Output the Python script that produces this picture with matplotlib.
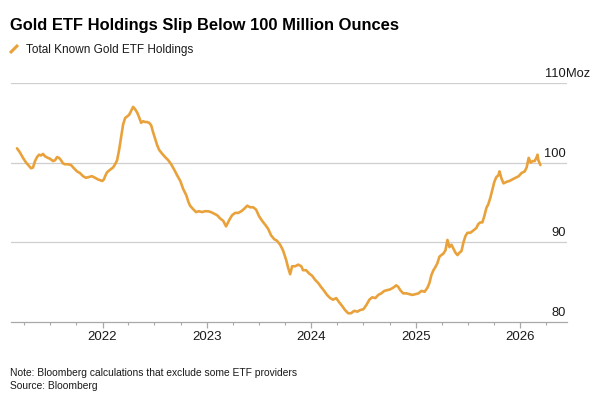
import matplotlib
matplotlib.use("Agg")
import matplotlib.pyplot as plt
import matplotlib.dates as mdates
import pandas as pd

# ---------------- data ----------------
dates = [
    "2021-03-08", "2021-03-18", "2021-03-29", "2021-04-09", "2021-04-19", "2021-04-26",
    "2021-05-03", "2021-05-10", "2021-05-17", "2021-05-24", "2021-05-31", "2021-06-07",
    "2021-06-14", "2021-06-24", "2021-07-01", "2021-07-12", "2021-07-19", "2021-07-26",
    "2021-08-02", "2021-08-09", "2021-08-16", "2021-08-23", "2021-09-02", "2021-09-13",
    "2021-09-23", "2021-10-04", "2021-10-14", "2021-10-25", "2021-11-04", "2021-11-15",
    "2021-11-25", "2021-12-06", "2021-12-16", "2021-12-23", "2021-12-31", "2022-01-06",
    "2022-01-10", "2022-01-17", "2022-01-27", "2022-02-07", "2022-02-14", "2022-02-21",
    "2022-02-28", "2022-03-07", "2022-03-14", "2022-03-21", "2022-03-28", "2022-04-04",
    "2022-04-11", "2022-04-18", "2022-04-25", "2022-05-02", "2022-05-09", "2022-05-16",
    "2022-05-23", "2022-05-30", "2022-06-06", "2022-06-13", "2022-06-20", "2022-06-27",
    "2022-07-04", "2022-07-11", "2022-07-18", "2022-07-29", "2022-08-08", "2022-08-19",
    "2022-08-29", "2022-09-09", "2022-09-19", "2022-09-30", "2022-10-10", "2022-10-21",
    "2022-10-28", "2022-11-03", "2022-11-13", "2022-11-24", "2022-12-04", "2022-12-15",
    "2022-12-25", "2023-01-05", "2023-01-15", "2023-01-26", "2023-02-06", "2023-02-16",
    "2023-02-27", "2023-03-09", "2023-03-20", "2023-03-30", "2023-04-10", "2023-04-21",
    "2023-05-01", "2023-05-11", "2023-05-22", "2023-06-01", "2023-06-12", "2023-06-22",
    "2023-07-02", "2023-07-13", "2023-07-24", "2023-08-03", "2023-08-13", "2023-08-24",
    "2023-09-03", "2023-09-14", "2023-09-24", "2023-10-05", "2023-10-12", "2023-10-19",
    "2023-10-26", "2023-11-06", "2023-11-16", "2023-11-27", "2023-12-03", "2023-12-14",
    "2023-12-24", "2024-01-04", "2024-01-14", "2024-01-25", "2024-02-04", "2024-02-15",
    "2024-02-25", "2024-03-07", "2024-03-17", "2024-03-28", "2024-04-07", "2024-04-18",
    "2024-04-28", "2024-05-09", "2024-05-19", "2024-05-30", "2024-06-10", "2024-06-20",
    "2024-07-01", "2024-07-11", "2024-07-22", "2024-08-01", "2024-08-12", "2024-08-22",
    "2024-09-02", "2024-09-12", "2024-09-22", "2024-10-03", "2024-10-13", "2024-10-24",
    "2024-10-31", "2024-11-07", "2024-11-17", "2024-11-28", "2024-12-08", "2024-12-19",
    "2024-12-31", "2025-01-10", "2025-01-20", "2025-01-31", "2025-02-10", "2025-02-17",
    "2025-02-24", "2025-03-03", "2025-03-10", "2025-03-17", "2025-03-24", "2025-03-31",
    "2025-04-07", "2025-04-14", "2025-04-21", "2025-04-28", "2025-05-05", "2025-05-12",
    "2025-05-19", "2025-05-26", "2025-06-02", "2025-06-09", "2025-06-16", "2025-06-23",
    "2025-06-30", "2025-07-10", "2025-07-21", "2025-07-31", "2025-08-07", "2025-08-14",
    "2025-08-21", "2025-08-28", "2025-09-04", "2025-09-11", "2025-09-18", "2025-09-25",
    "2025-10-02", "2025-10-09", "2025-10-16", "2025-10-20", "2025-10-27", "2025-11-03",
    "2025-11-14", "2025-11-24", "2025-12-04", "2025-12-15", "2025-12-26", "2026-01-05",
    "2026-01-16", "2026-01-23", "2026-01-30", "2026-02-06", "2026-02-13", "2026-02-20",
    "2026-02-27", "2026-03-02", "2026-03-05", "2026-03-12",
]
holdings = [
    101.8, 101.3, 100.6, 100.0, 99.6, 99.3,
    99.4, 100.2, 100.7, 101.0, 100.9, 101.1,
    100.8, 100.6, 100.5, 100.2, 100.3, 100.7,
    100.6, 100.3, 99.9, 99.8, 99.8, 99.7,
    99.3, 98.9, 98.7, 98.3, 98.1, 98.2,
    98.3, 98.1, 97.9, 97.8, 97.7, 97.9,
    98.3, 98.8, 99.1, 99.4, 99.8, 100.3,
    101.6, 103.2, 104.8, 105.6, 105.8, 106.0,
    106.5, 107.0, 106.7, 106.3, 105.7, 105.0,
    105.2, 105.1, 105.1, 105.0, 104.7, 103.8,
    103.0, 102.2, 101.6, 101.1, 100.7, 100.3,
    99.8, 99.1, 98.4, 97.7, 96.7, 95.9,
    95.1, 94.6, 94.2, 93.8, 93.9, 93.8,
    93.9, 93.9, 93.8, 93.6, 93.4, 93.0,
    92.7, 92.0, 92.8, 93.4, 93.7, 93.7,
    93.9, 94.2, 94.6, 94.4, 94.4, 94.1,
    93.3, 92.7, 92.2, 91.7, 90.9, 90.4,
    90.2, 89.7, 89.0, 87.8, 86.8, 86.0,
    87.0, 87.0, 87.2, 87.0, 86.5, 86.5,
    86.1, 85.8, 85.3, 84.9, 84.4, 83.9,
    83.4, 83.0, 82.8, 83.0, 82.5, 82.0,
    81.5, 81.1, 81.1, 81.4, 81.3, 81.5,
    81.6, 82.1, 82.8, 83.1, 83.0, 83.4,
    83.6, 83.9, 84.0, 84.1, 84.3, 84.6,
    84.4, 84.0, 83.6, 83.6, 83.5, 83.4,
    83.5, 83.6, 83.9, 83.8, 84.3, 84.9,
    85.9, 86.5, 86.9, 87.4, 88.2, 88.4,
    88.6, 89.0, 90.3, 89.4, 89.7, 89.2,
    88.7, 88.4, 88.7, 88.9, 90.0, 90.8,
    91.2, 91.2, 91.5, 91.8, 92.3, 92.5,
    92.5, 93.3, 94.3, 94.8, 95.6, 96.6,
    97.6, 98.2, 98.4, 98.9, 98.0, 97.4,
    97.6, 97.7, 97.9, 98.1, 98.3, 98.7,
    98.9, 99.4, 100.6, 100.0, 100.2, 100.2,
    100.7, 101.0, 100.3, 99.7,
]
y_ticks = [80, 90, 100, 110]
y_tick_labels = ["80", "90", "100", "110"]
year_ticks = ["2022-01-01", "2023-01-01", "2024-01-01", "2025-01-01", "2026-01-01"]
year_labels = ["2022", "2023", "2024", "2025", "2026"]

title = "Gold ETF Holdings Slip Below 100 Million Ounces"
series_name = "Total Known Gold ETF Holdings"
note = "Note: Bloomberg calculations that exclude some ETF providers"
source = "Source: Bloomberg"

# ---------------- style ----------------
GOLD = "#E9A23B"
GRID = "#cfcfcf"
AXIS = "#a8a8a8"
TXT = "#1a1a1a"
plt.rcParams["font.family"] = ["Liberation Sans", "DejaVu Sans"]

W, H = 600, 398
fig = plt.figure(figsize=(W / 100, H / 100), dpi=100)
ax = fig.add_axes([11 / W, 1 - 322 / H, 556 / W, 239 / H])

x = pd.to_datetime(dates)
ax.plot(x, holdings, color=GOLD, lw=1.9, solid_joinstyle="round",
        solid_capstyle="round", zorder=3)

ax.set_ylim(y_ticks[0], y_ticks[-1])
ax.set_xlim(pd.Timestamp("2021-02-15"), pd.Timestamp("2026-06-13"))

for s in ["top", "left", "right"]:
    ax.spines[s].set_visible(False)
ax.spines["bottom"].set_color(AXIS)
ax.spines["bottom"].set_linewidth(0.9)

for v in y_ticks[1:]:
    ax.axhline(v, color=GRID, lw=0.9, zorder=1)

ax.set_yticks([])
ax.set_xticks(pd.to_datetime(year_ticks))
ax.set_xticklabels(year_labels)
ax.xaxis.set_minor_locator(mdates.MonthLocator(bymonth=[1, 4, 7, 10]))
ax.tick_params(axis="x", which="major", length=4.5, width=0.9, color=AXIS,
               labelsize=9.5, labelcolor=TXT, pad=2)
ax.tick_params(axis="x", which="minor", length=2.5, width=0.8, color=AXIS)

for v, lab in zip(y_ticks, y_tick_labels):
    ax.annotate(lab, xy=(0.998, v), xycoords=("axes fraction", "data"),
                xytext=(0, 4.3), textcoords="offset points",
                ha="right", va="baseline", fontsize=9.3, color=TXT)
    if v == y_ticks[-1]:
        ax.annotate("Moz", xy=(0.998, v), xycoords=("axes fraction", "data"),
                    xytext=(0, 4.3), textcoords="offset points",
                    ha="left", va="baseline", fontsize=9.3, color=TXT)

# title, legend, notes
fig.text(10 / W, 1 - 30 / H, title, fontsize=11.85, fontweight="bold",
         color="#000000", ha="left", va="baseline")
fig.lines.append(plt.Line2D([10 / W, 18 / W], [1 - 53 / H, 1 - 45 / H],
                            transform=fig.transFigure, color=GOLD, lw=2.2,
                            solid_capstyle="butt"))
fig.text(26 / W, 1 - 52.5 / H, series_name, fontsize=8.5, color=TXT,
         ha="left", va="baseline")
fig.text(10 / W, 1 - 376 / H, note, fontsize=7.35, color=TXT,
         ha="left", va="baseline")
fig.text(10 / W, 1 - 389 / H, source, fontsize=7.35, color=TXT,
         ha="left", va="baseline")

fig.savefig("out.png", dpi=100, facecolor="white")
